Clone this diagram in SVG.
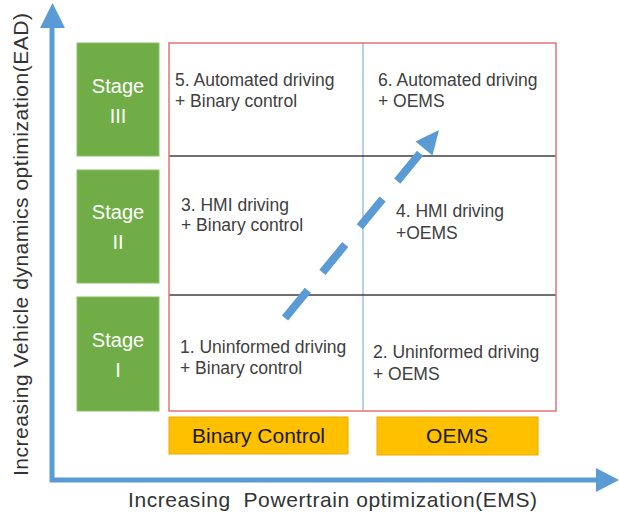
<svg xmlns="http://www.w3.org/2000/svg" width="619" height="515" viewBox="0 0 619 515">
<style>
.cell{font-family:"Liberation Sans",Arial,sans-serif;font-size:17.5px;fill:#404040}
.stage rect{fill:#70AD47;stroke:#8CC068;stroke-width:1}
.stage text{font-family:"Liberation Sans",Arial,sans-serif;font-size:20px;fill:#FFFFFF;text-anchor:middle}
.ctrl rect{fill:#FFC000;stroke:#E6AC00;stroke-width:1}
.ctrl text{font-family:"Liberation Sans",Arial,sans-serif;font-size:21px;fill:#1a1a1a;text-anchor:middle}
.axislabel{font-family:"Liberation Sans",Arial,sans-serif;font-size:21px;fill:#333333;white-space:pre}
.axis{fill:none;stroke:#5B9BD5;stroke-width:5}
.arrowhead{fill:#5B9BD5}
</style>
<rect width="619" height="515" fill="#FFFFFF"/>

<g id="grid">
  <line x1="363" y1="43" x2="363" y2="411" stroke="#9DC3E6" stroke-width="1.5"/>
  <line x1="169" y1="156" x2="556" y2="156" stroke="#404040" stroke-width="1.3"/>
  <line x1="169" y1="295" x2="556" y2="295" stroke="#404040" stroke-width="1.3"/>
  <rect x="169" y="43" width="387" height="368" fill="none" stroke="#E57373" stroke-width="1.5"/>
</g>

<g id="stage3" class="stage">
  <rect x="77" y="43" width="82" height="113"/>
  <text x="118" y="93">Stage</text>
  <text x="118" y="123">III</text>
</g>
<g id="stage2" class="stage">
  <rect x="77" y="170" width="82" height="113"/>
  <text x="118" y="219">Stage</text>
  <text x="118" y="249">II</text>
</g>
<g id="stage1" class="stage">
  <rect x="77" y="297" width="82" height="114"/>
  <text x="118" y="347">Stage</text>
  <text x="118" y="377">I</text>
</g>

<g id="cell5"><text class="cell" x="175" y="86">5. Automated driving</text><text class="cell" x="175" y="107">+ Binary control</text></g>
<g id="cell6"><text class="cell" x="378" y="86">6. Automated driving</text><text class="cell" x="378" y="107">+ OEMS</text></g>
<g id="cell3"><text class="cell" x="181" y="211">3. HMI driving</text><text class="cell" x="181" y="231">+ Binary control</text></g>
<g id="cell4"><text class="cell" x="396" y="217">4. HMI driving</text><text class="cell" x="396" y="239">+OEMS</text></g>
<g id="cell1"><text class="cell" x="180" y="353">1. Uninformed driving</text><text class="cell" x="180" y="374">+ Binary control</text></g>
<g id="cell2"><text class="cell" x="373" y="358">2. Uninformed driving</text><text class="cell" x="373" y="380">+ OEMS</text></g>

<g id="binary" class="ctrl">
  <rect x="169" y="417" width="179" height="37"/>
  <text x="258.5" y="443">Binary Control</text>
</g>
<g id="oems" class="ctrl">
  <rect x="377" y="417" width="161" height="38"/>
  <text x="457" y="443">OEMS</text>
</g>

<g id="connectors">
  <polyline class="axis" points="52,26 52,480 598,480" stroke-linejoin="miter"/>
  <polygon class="arrowhead" points="52.5,3 40,28 65,28"/>
  <polygon class="arrowhead" points="619,480 596,468 596,492"/>
  <line x1="285" y1="318" x2="424" y2="148.5" stroke="#5B9BD5" stroke-width="8" stroke-dasharray="36 23"/>
  <polygon class="arrowhead" points="439,130 432.5,155.5 415.5,141.5"/>
</g>

<g id="labels">
  <text class="axislabel" x="128" y="507" textLength="409" lengthAdjust="spacing" xml:space="preserve">Increasing  Powertrain optimization(EMS)</text>
  <text class="axislabel" transform="translate(28,476) rotate(-90)" x="0" y="0" textLength="463" lengthAdjust="spacing">Increasing Vehicle dynamics optimization(EAD)</text>
</g>
</svg>
